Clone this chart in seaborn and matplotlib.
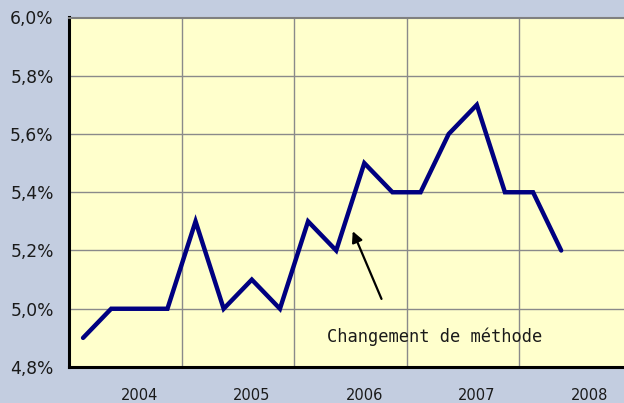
import matplotlib
matplotlib.use("Agg")
import matplotlib.pyplot as plt
import seaborn as sns
import pandas as pd
import numpy as np

# Data (quarterly rate, %)
quarters = ["2004T1", "2004T2", "2004T3", "2004T4",
            "2005T1", "2005T2", "2005T3", "2005T4",
            "2006T1", "2006T2", "2006T3", "2006T4",
            "2007T1", "2007T2", "2007T3", "2007T4",
            "2008T1", "2008T2"]
values = [4.9, 5.0, 5.0, 5.0,
          5.3, 5.0, 5.1, 5.0,
          5.3, 5.2, 5.5, 5.4,
          5.4, 5.6, 5.7, 5.4,
          5.4, 5.2]
years = ["2004", "2005", "2006", "2007", "2008"]
y_ticks = [4.8, 5.0, 5.2, 5.4, 5.6, 5.8, 6.0]
annotation = "Changement de méthode"

df = pd.DataFrame({"pos": np.arange(len(quarters)), "quarter": quarters, "value": values})

sns.set_style("white")
plt.rcParams["font.family"] = ["DejaVu Sans"]

fig = plt.figure(figsize=(6.24, 4.03), dpi=100)
bg = "#C3CDE0"
fig.patch.set_facecolor(bg)
ax = fig.add_axes([69 / 624, 36 / 403, 562.5 / 624, 349.5 / 403])
ax.set_facecolor("#FFFFCC")

sns.lineplot(data=df, x="pos", y="value", ax=ax, color="#000080", linewidth=3.2,
             solid_joinstyle="miter", zorder=3)

n_slots = 4 * len(years)
ax.set_xlim(-0.5, n_slots - 0.5)
ax.set_ylim(y_ticks[0], y_ticks[-1])

# y axis
ax.set_yticks(y_ticks)
ax.set_yticklabels([f"{v:.1f}%".replace(".", ",") for v in y_ticks], fontsize=12.3, color="#1a1a1a")
ax.grid(axis="y", color="#8a8a8a", linewidth=1.0, zorder=1)

# x axis: major ticks at year boundaries, labels via minor ticks
boundaries = [4 * k - 0.5 for k in range(len(years) + 1)]
ax.set_xticks(boundaries)
ax.set_xticklabels([""] * len(boundaries))
ax.set_xticks([4 * k + 2 for k in range(len(years))], minor=True)
ax.set_xticklabels(years, minor=True, fontsize=10.5, color="#1a1a1a")
ax.tick_params(axis="x", which="minor", length=0, pad=15)
ax.tick_params(axis="x", which="major", length=7, width=2, direction="out", color="black")
ax.tick_params(axis="y", length=7, width=2, direction="out", color="black", pad=4)
for b in boundaries[1:-1]:
    ax.axvline(b, color="#8a8a8a", linewidth=1.0, zorder=1)

ax.set_xlabel("")
ax.set_ylabel("")

for side in ["left", "bottom"]:
    ax.spines[side].set_color("black")
    ax.spines[side].set_linewidth(2.2)
ax.spines["top"].set_color("#808080")
ax.spines["top"].set_linewidth(1.5)
ax.spines["right"].set_visible(False)

ax.annotate("", xy=(9.55, 5.275), xytext=(10.65, 5.025),
            arrowprops=dict(arrowstyle="-|>", mutation_scale=16, lw=1.6, color="black"),
            zorder=4)
ax.text(8.67, 4.903, annotation, fontsize=12.3, family="DejaVu Sans Mono",
        ha="left", va="center", color="#1a1a1a")

fig.savefig("out.png", dpi=100, facecolor=bg)
